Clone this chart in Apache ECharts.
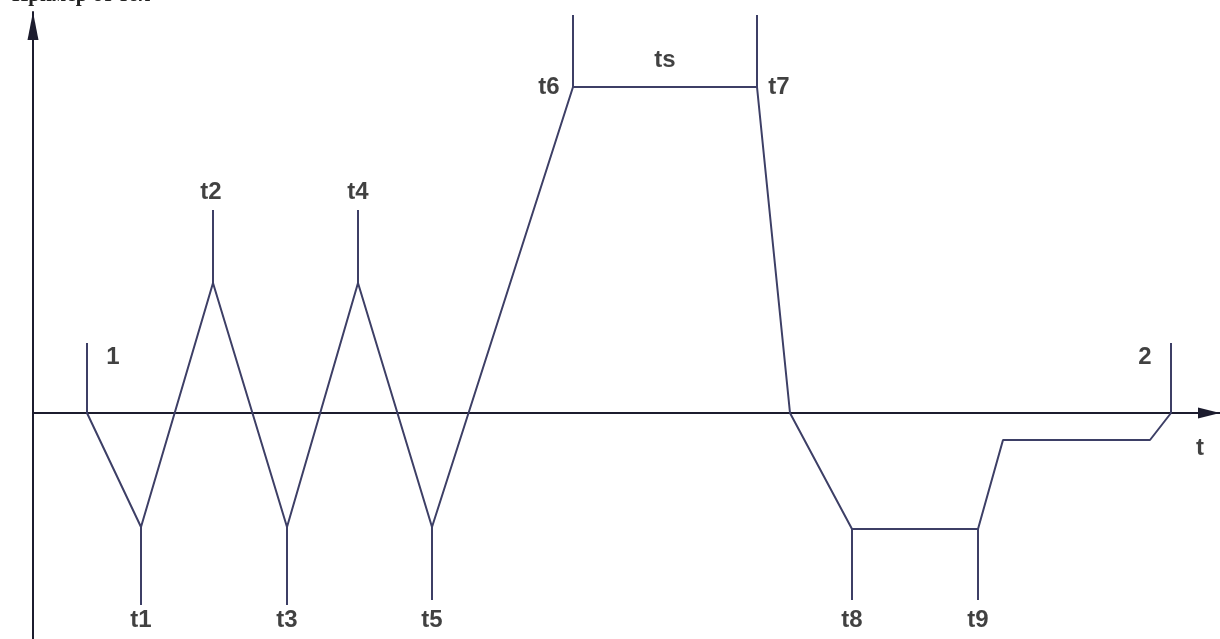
<!DOCTYPE html>
<html>
<head>
<meta charset="utf-8">
<script src="https://cdn.jsdelivr.net/npm/echarts@6/dist/echarts.min.js"></script>
<style>
    html, body {
        margin: 0;
        padding: 0;
        background: #ffffff;
    }
    #chart {
        width: 1220px;
        height: 639px;
    }
</style>
</head>
<body>
<div id="chart"></div>
<script>
// waveform corner points (time, level)
const waveX = [87, 141, 213, 287, 358, 432, 573, 757, 790, 852, 978, 1003, 1150, 1171];
const waveY = [0, -114, 130, -114, 130, -114, 326, 326, 0, -116, -116, -27, -27, 0];

// vertical marker lines
const markX = [87, 141, 213, 287, 358, 432, 573, 757, 852, 978, 1171];
const markFrom = [0, -114, 130, -114, 130, -114, 326, 326, -116, -116, 0];
const markTo = [70, -192, 203, -192, 203, -187, 398, 398, -187, -187, 70];

// text labels
const labelText = ['1', 't1', 't2', 't3', 't4', 't5', 't6', 'ts', 't7', 't8', 't9', '2', 't'];
const labelX = [113, 141, 211, 287, 358, 432, 549, 665, 779, 852, 978, 1145, 1200];
const labelY = [56, -207, 221, -207, 221, -207, 326, 353, 326, -207, -207, 56, -35];

const lineColor = '#3d3f66';

const chart = echarts.init(document.getElementById('chart'));

const markSeries = markX.map((x, i) => ({
    type: 'line',
    silent: true,
    symbol: 'none',
    data: [[x, markFrom[i]], [x, markTo[i]]],
    lineStyle: { color: lineColor, width: 2 },
    z: 2
}));

chart.setOption({
    animation: false,
    graphic: [{
        type: 'text',
        left: 12,
        top: -15,
        style: {
            text: 'Пример от тол',
            font: 'bold 21px "Liberation Serif", serif',
            fill: '#222'
        }
    }],
    grid: {
        left: 33,
        right: 0,
        top: 12,
        bottom: 0
    },
    xAxis: {
        type: 'value',
        min: 33,
        max: 1220,
        splitLine: { show: false },
        axisTick: { show: false },
        axisLabel: { show: false },
        axisLine: {
            show: true,
            onZero: true,
            symbol: ['none', 'triangle'],
            symbolSize: [11, 22],
            symbolOffset: [0, -11],
            lineStyle: { color: '#1c1c2e', width: 2 }
        }
    },
    yAxis: {
        type: 'value',
        min: -226,
        max: 401,
        splitLine: { show: false },
        axisTick: { show: false },
        axisLabel: { show: false },
        axisLine: {
            show: true,
            onZero: false,
            symbol: ['none', 'triangle'],
            symbolSize: [11, 28],
            symbolOffset: [0, -14],
            lineStyle: { color: '#1c1c2e', width: 2 }
        }
    },
    series: [
        {
            type: 'line',
            silent: true,
            symbol: 'none',
            data: waveX.map((x, i) => [x, waveY[i]]),
            lineStyle: { color: lineColor, width: 2 },
            z: 3
        },
        ...markSeries,
        {
            type: 'scatter',
            silent: true,
            symbolSize: 0,
            data: labelX.map((x, i) => ({ value: [x, labelY[i]], name: labelText[i] })),
            label: {
                show: true,
                position: 'inside',
                formatter: p => p.name,
                fontFamily: '"Liberation Sans", Arial, sans-serif',
                fontWeight: 'bold',
                fontSize: 24,
                color: '#111111'
            },
            z: 4
        }
    ]
});
</script>
</body>
</html>
